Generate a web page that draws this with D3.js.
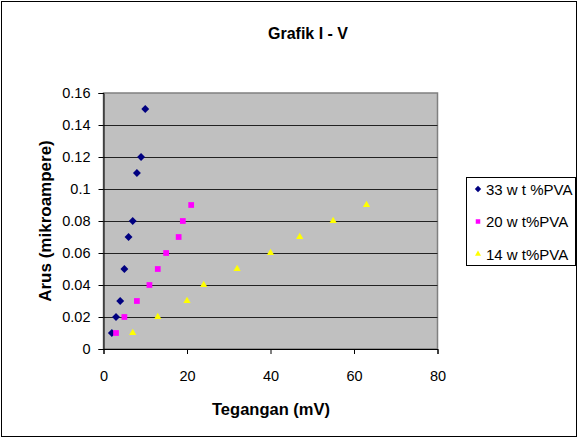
<!DOCTYPE html>
<html>
<head>
<meta charset="utf-8">
<script src="https://cdn.jsdelivr.net/npm/d3@7"></script>
<style>
  html, body { margin: 0; padding: 0; background: #fff; }
  svg { display: block; font-family: "Liberation Sans", Arial, sans-serif; }
</style>
</head>
<body>
<svg id="chart" width="579" height="439"></svg>
<script>
// Voltage (mV) vs current (microampere) for three PVA concentrations
const v33 = [2, 3, 4, 5, 6, 7, 8, 9, 10];
const i33 = [0.01, 0.02, 0.03, 0.05, 0.07, 0.08, 0.11, 0.12, 0.15];

const v20 = [3, 5, 8, 11, 13, 15, 18, 19, 21];
const i20 = [0.01, 0.02, 0.03, 0.04, 0.05, 0.06, 0.07, 0.08, 0.09];

const v14 = [7, 13, 20, 24, 32, 40, 47, 55, 63];
const i14 = [0.01, 0.02, 0.03, 0.04, 0.05, 0.06, 0.07, 0.08, 0.09];

const seriesNames = ["33 w t %PVA", "20 w t%PVA", "14 w t%PVA"];
const xTicks = [0, 20, 40, 60, 80];
const yTicks = [0, 0.02, 0.04, 0.06, 0.08, 0.1, 0.12, 0.14, 0.16];

const series = [
  { name: seriesNames[0], v: v33, i: i33, color: "#000080", shape: d3.symbolDiamond2, size: 40 },
  { name: seriesNames[1], v: v20, i: i20, color: "#ff00ff", shape: d3.symbolSquare2, size: 42 },
  { name: seriesNames[2], v: v14, i: i14, color: "#ffff00", shape: d3.symbolTriangle2, size: 38 }
];

const svg = d3.select("#chart");

// chart frame
svg.append("rect")
  .attr("x", 1.5).attr("y", 1.5).attr("width", 575).attr("height", 435)
  .attr("fill", "#fff").attr("stroke", "#000").attr("stroke-width", 1);

const plot = { left: 103.5, right: 437.5, top: 93, bottom: 349 };

const x = d3.scaleLinear().domain([0, 80]).range([plot.left, plot.right]);
const y = d3.scaleLinear().domain([0, 0.16]).range([plot.bottom, plot.top]);

// plot area background
svg.append("rect")
  .attr("x", plot.left).attr("y", plot.top)
  .attr("width", plot.right - plot.left).attr("height", plot.bottom - plot.top)
  .attr("fill", "#c0c0c0").attr("stroke", "#808080").attr("stroke-width", 1.5);

// horizontal gridlines
svg.append("g")
  .selectAll("line")
  .data(yTicks.filter(t => t > 0 && t < 0.16))
  .join("line")
  .attr("x1", plot.left).attr("x2", plot.right)
  .attr("y1", d => Math.round(y(d)) + 0.5).attr("y2", d => Math.round(y(d)) + 0.5)
  .attr("stroke", "#222").attr("stroke-width", 1);

// axes
const yAxis = d3.axisLeft(y).tickValues(yTicks).tickSize(5).tickPadding(8)
  .tickFormat(d => d3.format("")(+d.toFixed(2)));
const xAxis = d3.axisBottom(x).tickValues(xTicks).tickSize(5).tickPadding(17);

const gy = svg.append("g").attr("transform", `translate(${plot.left},0)`).call(yAxis);
const gx = svg.append("g").attr("transform", `translate(0,${plot.bottom})`).call(xAxis);

[gx, gy].forEach(g => {
  g.select(".domain").attr("stroke", "#000");
  g.selectAll(".tick line").attr("stroke", "#000");
  g.selectAll(".tick text")
    .attr("fill", "#000")
    .style("font-size", "14.5px")
    .style("font-family", "'Liberation Sans', Arial, sans-serif");
});

// markers
series.forEach(s => {
  const sym = d3.symbol().type(s.shape).size(s.size);
  svg.append("g")
    .selectAll("path")
    .data(s.v.map((v, k) => ({ v, i: s.i[k] })))
    .join("path")
    .attr("d", sym)
    .attr("transform", d => `translate(${x(d.v)},${y(d.i)})`)
    .attr("fill", s.color);
});

// titles
svg.append("text")
  .attr("x", 308).attr("y", 39)
  .attr("text-anchor", "middle")
  .style("font-size", "16px").style("font-weight", "bold")
  .text("Grafik I - V");

svg.append("text")
  .attr("x", 271).attr("y", 415)
  .attr("text-anchor", "middle")
  .style("font-size", "16.5px").style("font-weight", "bold")
  .text("Tegangan (mV)");

svg.append("text")
  .attr("transform", `translate(51,${(plot.top + plot.bottom) / 2}) rotate(-90)`)
  .attr("text-anchor", "middle")
  .style("font-size", "17px").style("font-weight", "bold")
  .text("Arus (mikroampere)");

// legend
const legend = svg.append("g");
legend.append("rect")
  .attr("x", 466.5).attr("y", 177.5).attr("width", 109).attr("height", 88)
  .attr("fill", "#fff").attr("stroke", "#000").attr("stroke-width", 1);

series.forEach((s, k) => {
  const cy = 189 + k * 32.5;
  legend.append("path")
    .attr("d", d3.symbol().type(s.shape).size(26)())
    .attr("transform", `translate(478,${cy})`)
    .attr("fill", s.color);
  legend.append("text")
    .attr("x", 486).attr("y", cy + 5.5)
    .style("font-size", "15px")
    .text(s.name);
});
</script>
</body>
</html>
